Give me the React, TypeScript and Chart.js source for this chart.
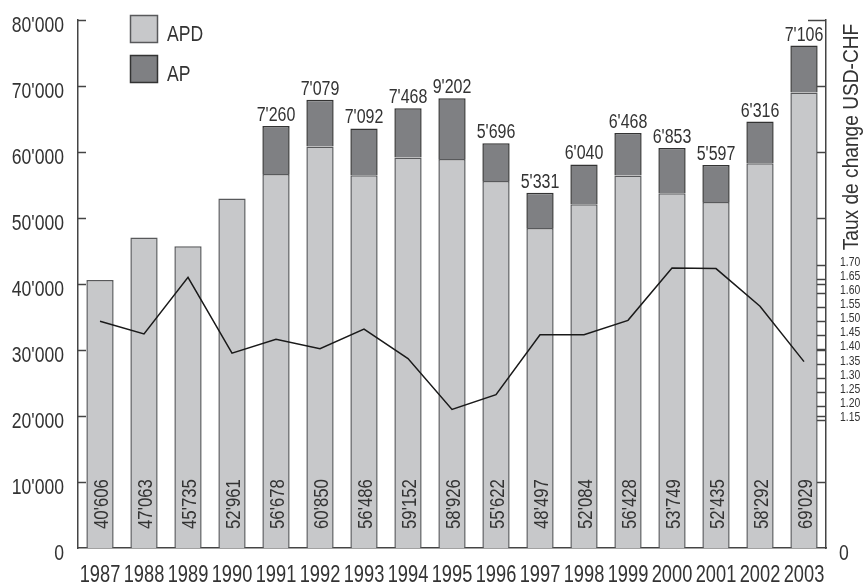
import React, { useEffect, useRef } from "react";
import { Chart, registerables } from "chart.js";

Chart.register(...registerables);

const YEARS = ["1987","1988","1989","1990","1991","1992","1993","1994","1995","1996","1997","1998","1999","2000","2001","2002","2003"];
const APD = [40606, 47063, 45735, 52961, 56678, 60850, 56486, 59152, 58926, 55622, 48497, 52084, 56428, 53749, 52435, 58292, 69029];
const AP = [null, null, null, null, 7260, 7079, 7092, 7468, 9202, 5696, 5331, 6040, 6468, 6853, 5597, 6316, 7106];
const RATE = [1.5, 1.455, 1.655, 1.387, 1.436, 1.403, 1.472, 1.368, 1.188, 1.24, 1.452, 1.452, 1.503, 1.688, 1.686, 1.553, 1.357];
const RATE_TICKS = [1.15, 1.2, 1.25, 1.3, 1.35, 1.4, 1.45, 1.5, 1.55, 1.6, 1.65, 1.7];
const RIGHT_TITLE = "Taux de change USD-CHF";

const FONT = "'Liberation Sans', Arial, sans-serif";
const SX = 0.8;
const TEXT = "#333333";
const AXIS = "#444444";
const CLEAR = "rgba(0,0,0,0)";

const fmt = (n: number) => String(Math.round(n)).replace(/\B(?=(\d{3})+(?!\d))/g, "'");

function txt(
  ctx: CanvasRenderingContext2D,
  s: string,
  x: number,
  y: number,
  size: number,
  align: CanvasTextAlign,
  rotate = false,
  sx = SX
) {
  ctx.save();
  ctx.translate(x, y);
  if (rotate) ctx.rotate(-Math.PI / 2);
  ctx.scale(sx, 1);
  ctx.font = `${size}px ${FONT}`;
  ctx.textAlign = align;
  ctx.textBaseline = "alphabetic";
  ctx.fillStyle = TEXT;
  ctx.fillText(s, 0, 0);
  ctx.restore();
}

const decor = {
  id: "decor",
  afterDatasetsDraw(chart: any) {
    const ctx = chart.ctx as CanvasRenderingContext2D;
    const { left, right, top, bottom } = chart.chartArea;
    const x = chart.scales.x;
    const y = chart.scales.y;
    const y2 = chart.scales.y2;
    ctx.save();
    // inward ticks
    ctx.strokeStyle = AXIS;
    ctx.lineWidth = 1.5;
    y.ticks.forEach((t: any) => {
      const py = Math.round(y.getPixelForValue(t.value)) + 0.5;
      if (t.value === 0) return;
      ctx.beginPath();
      ctx.moveTo(left, py);
      ctx.lineTo(left + 8, py);
      ctx.stroke();
      ctx.beginPath();
      ctx.moveTo(right, py);
      ctx.lineTo(right - (t.value === y.max ? 18 : 9), py);
      ctx.stroke();
    });
    y2.ticks.forEach((t: any) => {
      const py = Math.round(y2.getPixelForValue(t.value)) + 0.5;
      ctx.beginPath();
      ctx.moveTo(right, py);
      ctx.lineTo(right - 9, py);
      ctx.stroke();
    });
    // axis labels
    y.ticks.forEach((t: any) => {
      txt(ctx, t.label, left - 14, y.getPixelForValue(t.value) + 12, 22, "right");
    });
    y2.ticks.forEach((t: any) => {
      txt(ctx, t.label, right + 14, y2.getPixelForValue(t.value) + 1, 13, "left");
    });
    x.ticks.forEach((t: any, i: number) => {
      txt(ctx, String(t.label), x.getPixelForTick(i), bottom + 34, 24, "center", false, 0.76);
    });
    // right zero label
    txt(ctx, y.ticks[0].label, right + 13, y.getPixelForValue(0) + 12, 22, "left");
    // right title
    txt(ctx, RIGHT_TITLE, right + 32, top + 117, 22, "center", true, 0.87);
    // bar labels
    const metaApd = chart.getDatasetMeta(0);
    const metaAp = chart.getDatasetMeta(1);
    metaApd.data.forEach((el: any, i: number) => {
      txt(ctx, fmt(APD[i]), el.x + 7.5, bottom - 19, 21, "left", true);
    });
    metaAp.data.forEach((el: any, i: number) => {
      if (AP[i] == null) return;
      txt(ctx, fmt(AP[i] as number), el.x, el.y - 5, 20, "center");
    });
    // legend
    const items = chart.data.datasets.slice(0, 2);
    items.forEach((ds: any, i: number) => {
      const bx = 130.5, by = 15.5 + i * 40, s = 27;
      ctx.fillStyle = ds.backgroundColor;
      ctx.fillRect(bx, by, s, s);
      ctx.strokeStyle = ds.borderColor;
      ctx.lineWidth = 1.5;
      ctx.strokeRect(bx, by, s, s);
      txt(ctx, ds.label, 167, 41 + i * 40, 22, "left");
    });
    ctx.restore();
  },
};

export default function App() {
  const ref = useRef<HTMLCanvasElement>(null);
  useEffect(() => {
    if (!ref.current) return;
    const chart = new Chart(ref.current, {
      type: "bar",
      data: {
        labels: YEARS,
        datasets: [
          {
            label: "APD",
            data: APD,
            backgroundColor: "#c7c8ca",
            borderColor: "#58595b",
            borderWidth: 1.5,
            stack: "s",
            yAxisID: "y",
            order: 2,
          },
          {
            label: "AP",
            data: AP,
            backgroundColor: "#7f8083",
            borderColor: "#333333",
            borderWidth: 1.5,
            stack: "s",
            yAxisID: "y",
            order: 2,
          },
          {
            type: "line",
            label: "Taux",
            data: RATE,
            borderColor: "#1a1a1a",
            borderWidth: 1.5,
            pointRadius: 0,
            fill: false,
            tension: 0,
            yAxisID: "y2",
            order: 1,
          } as any,
        ],
      },
      options: {
        animation: false,
        responsive: false,
        devicePixelRatio: 1,
        layout: { padding: { top: 15, left: 0, right: 0, bottom: 0 } },
        datasets: { bar: { barPercentage: 0.62, categoryPercentage: 1 } },
        plugins: { legend: { display: false }, tooltip: { enabled: false }, title: { display: false } },
        scales: {
          x: {
            stacked: true,
            grid: { display: false, drawTicks: false },
            border: { display: true, color: AXIS, width: 1.5 },
            ticks: { color: CLEAR, font: { family: FONT, size: 10 }, padding: 8, autoSkip: false, maxRotation: 0 },
            afterFit: (s: any) => { s.height = 37; },
          },
          y: {
            stacked: true,
            min: 0,
            max: 80000,
            grid: { display: false, drawTicks: false },
            border: { display: true, color: AXIS, width: 1.5 },
            ticks: { stepSize: 10000, color: CLEAR, font: { family: FONT, size: 10 }, padding: 14, callback: (v: any) => fmt(Number(v)) },
            afterFit: (s: any) => { s.width = 78; },
          },
          y2: {
            position: "right",
            min: 0.698,
            max: 2.565,
            grid: { display: false, drawTicks: false },
            border: { display: true, color: AXIS, width: 1.5 },
            afterBuildTicks: (s: any) => { s.ticks = RATE_TICKS.map((v) => ({ value: v })); },
            ticks: { color: CLEAR, font: { family: FONT, size: 10 }, padding: 14, callback: (v: any) => Number(v).toFixed(2) },
            afterFit: (s: any) => { s.width = 40; },
          },
        },
      },
      plugins: [decor],
    });
    return () => chart.destroy();
  }, []);
  return (
    <div style={{ position: "fixed", left: 0, top: 0, width: 866, height: 585, background: "#fff" }}>
      <canvas ref={ref} width={866} height={585} style={{ width: 866, height: 585, display: "block" }} />
    </div>
  );
}
